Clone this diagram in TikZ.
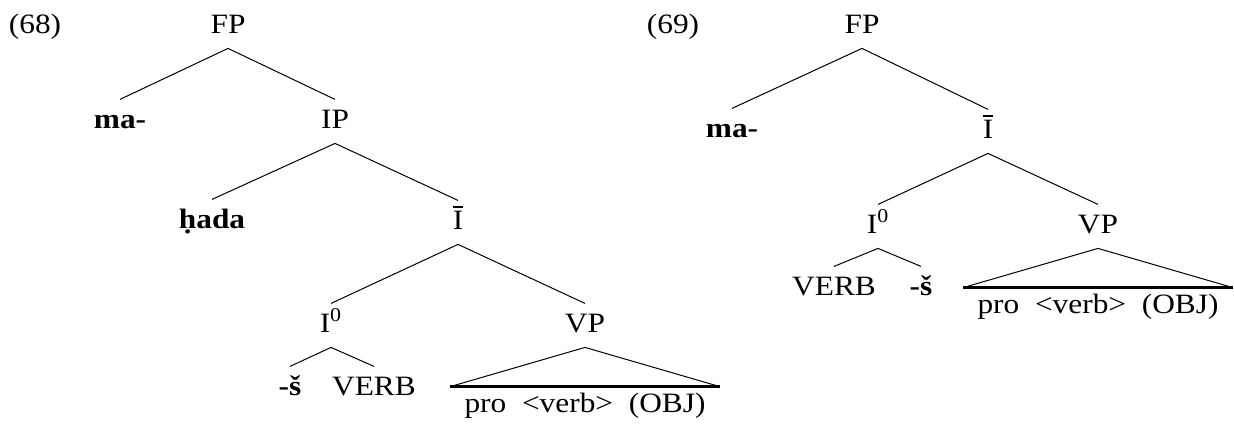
\documentclass[tikz,border=0pt]{standalone}
\usepackage{fontspec}
\setmainfont{Liberation Serif}[FakeStretch=1.12]
\usepackage{tikz}

\newcommand{\barI}{\ooalign{I\cr\hidewidth\raisebox{0.74em}{\rule{0.34em}{0.09em}}\hidewidth\cr}}

\begin{document}
\begin{tikzpicture}[x=0.5pt, y=-0.5pt,
        cat/.style={font=\fontsize{14}{17}\selectfont, inner sep=4pt, text height=10.1pt, text depth=3.5pt, anchor=base},
        yield/.style={cat, inner xsep=7pt, inner ysep=2.4pt},
        branch/.style={line width=0.5pt},
        roof/.style={line width=1.2pt}]

        \useasboundingbox (0,0) rectangle (1234,424);

            % tree (68)
            \node (lblA) [cat] at (35,33) {(68)};
            \node (fpA) [cat] at (228,33) {FP};
            \node (maA) [cat] at (120,128) {\textbf{ma-}};
            \node (ipA) [cat] at (335,128) {IP};
            \node (hadaA) [cat] at (212,228) {\textbf{ḥada}};
            \node (ibarA) [cat] at (458,229) {\barI};
            \node (izeroA) [cat] at (331,332) {I\textsuperscript{0}};
            \node (vpA) [cat] at (585,332) {VP};
            \node (shA) [cat] at (290,395) {\textbf{-š}};
            \node (verbA) [cat] at (374,395) {VERB};
            \node (proA) [yield] at (585,412) {pro\ \ <verb>\ \ (OBJ)};

            \draw[branch] (maA.north) -- (fpA.south) -- (ipA.north);
            \draw[branch] (hadaA.north) -- (ipA.south) -- (ibarA.north);
            \draw[branch] (izeroA.north) -- (ibarA.south) -- (vpA.north);
            \draw[branch] (shA.north) -- (izeroA.south) -- (verbA.north);
            \draw[branch] (proA.north west) -- (vpA.south) -- (proA.north east);
            \draw[roof] (proA.north west) -- (proA.north east);

            % tree (69)
            \node (lblB) [cat] at (673,33) {(69)};
            \node (fpB) [cat] at (862,33) {FP};
            \node (maB) [cat] at (732,137) {\textbf{ma-}};
            \node (ibarB) [cat] at (988,138) {\barI};
            \node (izeroB) [cat] at (878,233) {I\textsuperscript{0}};
            \node (vpB) [cat] at (1098,233) {VP};
            \node (verbB) [cat] at (834,295) {VERB};
            \node (shB) [cat] at (921,295) {\textbf{-š}};
            \node (proB) [yield] at (1098,313) {pro\ \ <verb>\ \ (OBJ)};

            \draw[branch] (maB.north) -- (fpB.south) -- (ibarB.north);
            \draw[branch] (izeroB.north) -- (ibarB.south) -- (vpB.north);
            \draw[branch] (verbB.north) -- (izeroB.south) -- (shB.north);
            \draw[branch] (proB.north west) -- (vpB.south) -- (proB.north east);
            \draw[roof] (proB.north west) -- (proB.north east);

\end{tikzpicture}
\end{document}
